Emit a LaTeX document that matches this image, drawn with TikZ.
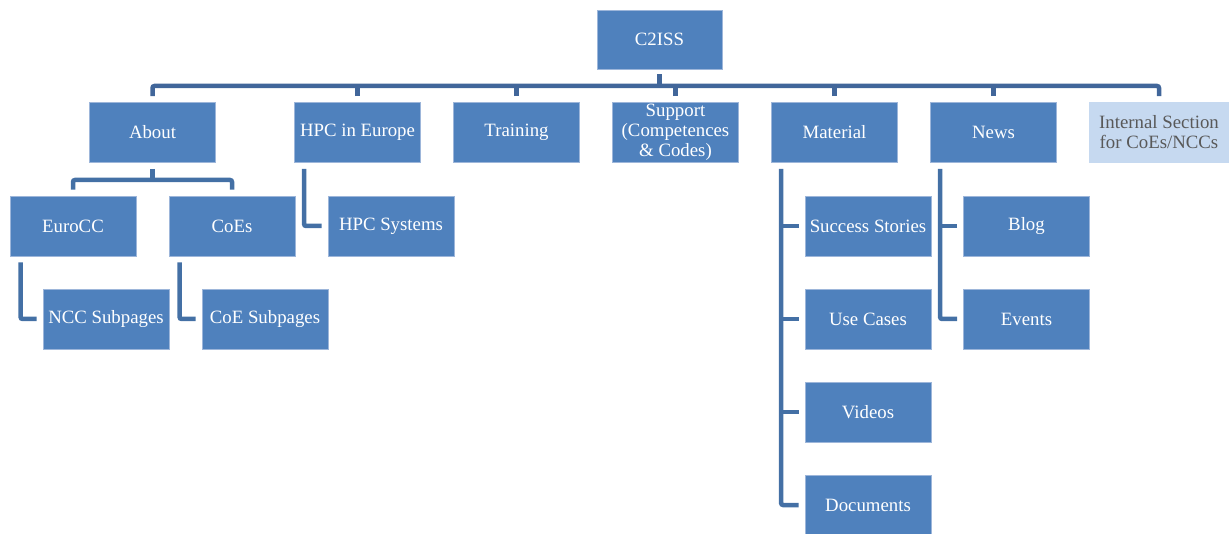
\documentclass[tikz,border=0pt]{standalone}
\usepackage{fontspec}
\setmainfont{Liberation Serif}
\definecolor{boxblue}{HTML}{4F81BD}
\definecolor{boxedge}{HTML}{9DB6DA}
\definecolor{linkblue}{HTML}{4470A5}
\definecolor{barblue}{HTML}{41669A}
\definecolor{paleblue}{HTML}{C6D9F0}
\definecolor{graytext}{HTML}{595959}
\tikzset{
  box/.style={rectangle, fill=boxblue, draw=boxedge, line width=0.8pt,
    minimum width=126pt, minimum height=60pt, inner sep=1pt,
    text=white, align=center, font=\fontsize{18.8}{20}\selectfont},
  palebox/.style={box, fill=paleblue, draw=paleblue, text=graytext, minimum width=140pt},
  conn/.style={draw=linkblue, line width=4.5pt, rounded corners=2pt},
  topbar/.style={conn, draw=barblue}
}
\begin{document}
\begin{tikzpicture}[x=1pt,y=-1pt]
\useasboundingbox (0,0) rectangle (1229,534);
% nodes
\node[box, minimum width=125pt, minimum height=59pt] (c2iss) at (659.5,39.5) {C2ISS};
\node[box] (about) at (152.5,132.5) {About};
\node[box] (hpc) at (357.5,132.5) {HPC in Europe};
\node[box] (training) at (516.5,132.5) {Training};
\node[box] (support) at (675.5,132.5) {Support\\(Competences\\\&~Codes)};
\node[box] (material) at (834.5,132.5) {Material};
\node[box] (news) at (993.5,132.5) {News};
\node[palebox] (internal) at (1159,132.5) {Internal Section\\for CoEs/NCCs};
\node[box] (eurocc) at (73,226) {EuroCC};
\node[box] (coes) at (232,226) {CoEs};
\node[box] (hpcsys) at (391,226) {HPC Systems};
\node[box] (succ) at (868,226) {Success Stories};
\node[box] (blog) at (1026.5,226) {Blog};
\node[box] (ncc) at (106,319) {NCC Subpages};
\node[box] (coesub) at (265,319) {CoE Subpages};
\node[box] (usec) at (868,319) {Use Cases};
\node[box] (events) at (1026.5,319) {Events};
\node[box] (videos) at (868,412) {Videos};
\node[box] (docs) at (868,505) {Documents};
% coordinates
\coordinate (bar) at (0,86);
\coordinate (subbar) at (0,180);
% top level connectors
\draw[topbar] ([yshift=6pt]about.north) |- (bar -| internal.north) -- ([yshift=6pt]internal.north);
\draw[topbar, rounded corners=0pt] ([yshift=-5pt]c2iss.south) -- (c2iss.south |- bar);
\foreach \n in {hpc,training,support,material,news}
  \draw[topbar, rounded corners=0pt] ([yshift=6pt]\n.north) -- (\n.north |- bar);
% about children
\draw[conn, rounded corners=0pt] ([yshift=-6pt]about.south) -- (about.south |- subbar);
\draw[conn] ([yshift=6pt]eurocc.north) |- (subbar -| coes.north) -- ([yshift=6pt]coes.north);
% single-child elbows
\draw[conn] ([xshift=11pt,yshift=-6pt]eurocc.south west) |- ([xshift=-6pt]ncc.west);
\draw[conn] ([xshift=11pt,yshift=-6pt]coes.south west) |- ([xshift=-6pt]coesub.west);
\draw[conn] ([xshift=10pt,yshift=-6pt]hpc.south west) |- ([xshift=-6pt]hpcsys.west);
% material
\coordinate (matx) at ([xshift=10pt]material.south west);
\draw[conn] ([xshift=10pt,yshift=-6pt]material.south west) |- ([xshift=-6pt]docs.west);
\foreach \n in {succ,usec,videos}
  \draw[conn, rounded corners=0pt] ([xshift=-6pt]\n.west) -- (\n.west -| matx);
% news
\coordinate (newsx) at ([xshift=10pt]news.south west);
\draw[conn] ([xshift=10pt,yshift=-6pt]news.south west) |- ([xshift=-6pt]events.west);
\draw[conn, rounded corners=0pt] ([xshift=-6pt]blog.west) -- (blog.west -| newsx);
\end{tikzpicture}
\end{document}
